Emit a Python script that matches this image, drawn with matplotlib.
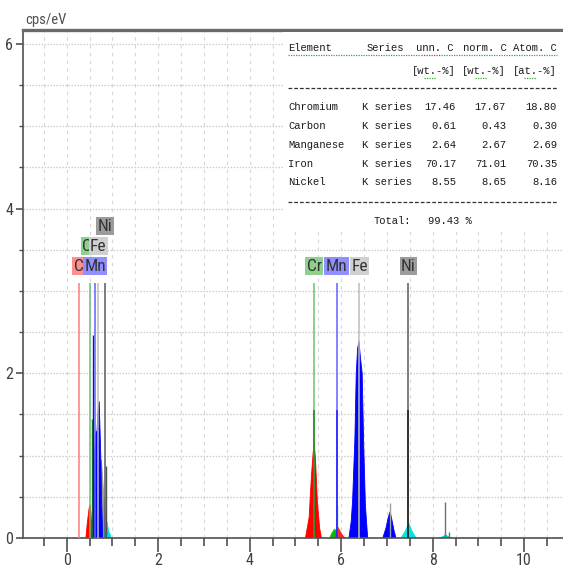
import matplotlib
matplotlib.use('Agg')
import matplotlib.pyplot as plt
from matplotlib import font_manager
from matplotlib.font_manager import FontProperties
from matplotlib.patches import Rectangle
from matplotlib.lines import Line2D
from matplotlib.ticker import MultipleLocator

# ---------------- data ----------------
# element marker lines (energy keV) and label stacking level
marker_names = ['C', 'Cr', 'Mn', 'Fe', 'Ni', 'Cr', 'Mn', 'Fe', 'Ni']
marker_energy = [0.26, 0.50, 0.62, 0.69, 0.84, 5.41, 5.90, 6.40, 7.47]
marker_level = [0, 1, 0, 1, 2, 0, 0, 0, 0]
marker_is_k = [False, False, False, False, False, True, True, True, True]
marker_top = 3.1
marker_k_height = 1.55

# fitted peak outlines (energy keV, cps/eV)
cr_l_e = [0.42, 0.45, 0.49, 0.51, 0.53, 0.56]
cr_l_c = [0.0, 0.18, 0.36, 0.40, 0.30, 0.0]
fe_l_e = [0.57, 0.59, 0.62, 0.64, 0.66, 0.68, 0.71, 0.73, 0.75, 0.76, 0.79]
fe_l_c = [0.0, 0.5, 1.1, 1.3, 1.25, 1.5, 1.66, 1.3, 0.9, 0.5, 0.0]
gray_l_e = [0.66, 0.72, 0.76, 0.80, 0.84, 0.87]
gray_l_c = [0.0, 0.6, 0.95, 0.6, 0.3, 0.0]
ni_l_e = [0.80, 0.84, 0.87, 0.92, 0.98]
ni_l_c = [0.0, 0.10, 0.22, 0.08, 0.0]

cr_ka_e = [5.22, 5.30, 5.35, 5.39, 5.41, 5.44, 5.48, 5.53, 5.57]
cr_ka_c = [0.0, 0.25, 0.75, 1.05, 1.17, 0.95, 0.45, 0.12, 0.0]
mn_ka_e = [5.75, 5.80, 5.86, 5.90, 5.93]
mn_ka_c = [0.0, 0.06, 0.11, 0.06, 0.0]
cr_kb_e = [5.86, 5.92, 5.96, 6.02, 6.08]
cr_kb_c = [0.0, 0.14, 0.10, 0.04, 0.0]
fe_ka_e = [6.17, 6.22, 6.25, 6.30, 6.33, 6.36, 6.39, 6.42, 6.46, 6.49, 6.53, 6.58]
fe_ka_c = [0.0, 0.2, 0.45, 1.2, 2.0, 2.3, 2.39, 2.2, 2.0, 1.2, 0.4, 0.0]
fe_kb_e = [6.91, 6.98, 7.03, 7.07, 7.11, 7.16, 7.20]
fe_kb_c = [0.0, 0.12, 0.25, 0.32, 0.22, 0.08, 0.0]
ni_ka_e = [7.31, 7.40, 7.48, 7.56, 7.64]
ni_ka_c = [0.0, 0.08, 0.18, 0.07, 0.0]
ni_kb_e = [8.15, 8.24, 8.28, 8.33, 8.40]
ni_kb_c = [0.0, 0.02, 0.04, 0.02, 0.0]

# thin spectrum spikes (energy, height)
spike_e = [0.56, 0.57, 0.85, 5.92, 7.06, 8.28, 8.35]
spike_c = [1.45, 2.46, 0.87, 0.40, 0.42, 0.44, 0.07]
spike_col = ['#1a7a1a', '#1010c0', '#505050', '#7ac07a', '#a0a0a0', '#707070', '#707070']

# quantification table
tbl_elements = ['Chromium', 'Carbon', 'Manganese', 'Iron', 'Nickel']
tbl_series = ['K series', 'K series', 'K series', 'K series', 'K series']
tbl_unn = [17.46, 0.61, 2.64, 70.17, 8.55]
tbl_norm = [17.67, 0.43, 2.67, 71.01, 8.65]
tbl_atom = [18.80, 0.30, 2.69, 70.35, 8.16]
tbl_total = 99.43

x_ticks = [0, 2, 4, 6, 8, 10]
y_ticks = [0, 2, 4, 6]

# ---------------- fonts ----------------
names = {f.name for f in font_manager.fontManager.ttflist}
MONO = 'Liberation Mono' if 'Liberation Mono' in names else 'DejaVu Sans Mono'


def pick_condensed():
    pref = ['Liberation Sans Narrow', 'Roboto Condensed', 'DejaVu Sans', 'Noto Sans',
            'Open Sans', 'Arimo', 'Roboto', 'Lato', 'Inter']
    best = None
    for f in font_manager.fontManager.ttflist:
        st = str(f.stretch).lower()
        fn = f.fname.lower()
        if f.style != 'normal':
            continue
        if f.weight not in (400, 'normal', 'regular', 'book'):
            continue
        if 'mono' in fn or 'serif' in fn or 'bold' in fn or 'italic' in fn:
            continue
        is_cond = (st == 'condensed') or ('narrow' in fn) or \
                  ('condensed' in fn and 'semi' not in fn and 'extra' not in fn and 'ultra' not in fn)
        if not is_cond:
            continue
        rank = len(pref)
        for i, p in enumerate(pref):
            if f.name.startswith(p):
                rank = i
                break
        if best is None or rank < best[0]:
            best = (rank, f.fname)
    return best[1] if best else None


cond_path = pick_condensed()
if cond_path:
    SANS = FontProperties(fname=cond_path)
    lab_size, tick_size = 12.5, 11.5
else:
    SANS = FontProperties(family='DejaVu Sans')
    lab_size, tick_size = 10, 10

# ---------------- figure ----------------
W, H = 563, 567
fig = plt.figure(figsize=(W / 100, H / 100), dpi=100)
fig.patch.set_facecolor('white')


def fx(px):
    return px / W


def fy(py):
    return 1 - py / H


ax = fig.add_axes([fx(23), fy(538), (563 - 23) / W, (538 - 30) / H])
ax.set_xlim(-0.955, 10.85)
ax.set_ylim(0, 6.17)

ax.spines['right'].set_visible(False)
ax.spines['top'].set_color('#6a6a6a')
ax.spines['top'].set_linewidth(2.4)
for s in ('left', 'bottom'):
    ax.spines[s].set_color('#505050')
    ax.spines[s].set_linewidth(1.2)

ax.xaxis.set_major_locator(MultipleLocator(2))
ax.xaxis.set_minor_locator(MultipleLocator(0.5))
ax.yaxis.set_major_locator(MultipleLocator(2))
ax.yaxis.set_minor_locator(MultipleLocator(0.5))
ax.set_xticks(x_ticks)
ax.set_yticks(y_ticks)
ax.set_xticklabels([str(v) for v in x_ticks])
ax.set_yticklabels([str(v) for v in y_ticks])
ax.tick_params(axis='x', which='major', length=10, width=1.2, color='#505050',
               labelcolor='#404040', pad=1.0)
ax.tick_params(axis='x', which='minor', length=6, width=1.2, color='#505050')
ax.tick_params(axis='y', which='major', length=5, width=1.2, color='#505050',
               labelcolor='#404040', pad=2)
ax.tick_params(axis='y', which='minor', length=3, width=1.0, color='#505050')
for lbl in ax.get_xticklabels() + ax.get_yticklabels():
    lbl.set_fontproperties(SANS)
    lbl.set_fontsize(tick_size)

ax.set_axisbelow(True)
ax.xaxis.grid(True, which='both', color='#d6d6d6', lw=0.8, ls=(0, (3, 4)))
ax.yaxis.grid(True, which='both', color='#cccccc', lw=0.9, ls=(0, (1.2, 1.2)))

# fitted peaks
fills = [
    (gray_l_e, gray_l_c, '#9a9a9a'),
    (cr_l_e, cr_l_c, '#ff0000'),
    (fe_l_e, fe_l_c, '#0000ff'),
    (ni_l_e, ni_l_c, '#00e0e0'),
    (cr_ka_e, cr_ka_c, '#ff0000'),
    (mn_ka_e, mn_ka_c, '#00c000'),
    (cr_kb_e, cr_kb_c, '#ff2020'),
    (fe_ka_e, fe_ka_c, '#0000ff'),
    (fe_kb_e, fe_kb_c, '#0000ff'),
    (ni_ka_e, ni_ka_c, '#00e5e5'),
    (ni_kb_e, ni_kb_c, '#00d0d0'),
]
for e, c, col in fills:
    ax.fill(e, c, color=col, lw=0.6, zorder=2)

for e, c, col in zip(spike_e, spike_c, spike_col):
    ax.vlines(e, 0, c, color=col, lw=1.0, zorder=2.5)

light = {'C': '#ff7a7a', 'Cr': '#6cc06c', 'Mn': '#6060ff', 'Fe': '#bdbdbd', 'Ni': '#5a5a5a'}
dark = {'C': '#ff5050', 'Cr': '#208a20', 'Mn': '#2020ff', 'Fe': '#9a9a9a', 'Ni': '#1e1e1e'}
box = {'C': '#ff8f8f', 'Cr': '#8fd08f', 'Mn': '#8f8fff', 'Fe': '#d0d0d0', 'Ni': '#9c9c9c'}

for name, e, k in zip(marker_names, marker_energy, marker_is_k):
    ax.vlines(e, 0, marker_top, color=light[name], lw=1.1, zorder=3)
    if k:
        ax.vlines(e, 0, marker_k_height, color=dark[name], lw=1.1, zorder=3.1)

label_base = 3.30
label_step = 0.243
for name, e, lev in zip(marker_names, marker_energy, marker_level):
    ax.text(e, label_base + lev * label_step, name, ha='center', va='center',
            fontproperties=SANS, fontsize=lab_size, color='#333333', zorder=6,
            bbox=dict(boxstyle='square,pad=0.08', fc=box[name], ec='none'))

fig.text(fx(25), fy(20), 'cps/eV', ha='left', va='center', fontproperties=SANS,
         fontsize=10.5, color='#505050')

# ---------------- table ----------------
fig.add_artist(Rectangle((fx(283), fy(232)), (563 - 283) / W, (232 - 32) / H,
                         transform=fig.transFigure, fc='white', ec='none', zorder=1))

tkw = dict(family=MONO, fontsize=7.6, color='#1a1a1a', va='center', zorder=3)
fig.text(fx(288), fy(48), 'Element', ha='left', **tkw)
fig.text(fx(367), fy(48), 'Series', ha='left', **tkw)
fig.text(fx(454), fy(48), 'unn. C', ha='right', **tkw)
fig.text(fx(507), fy(48), 'norm. C', ha='right', **tkw)
fig.text(fx(557), fy(48), 'Atom. C', ha='right', **tkw)
fig.text(fx(456), fy(71.5), '[wt.-%]', ha='right', **tkw)
fig.text(fx(506), fy(71.5), '[wt.-%]', ha='right', **tkw)
fig.text(fx(557), fy(71.5), '[at.-%]', ha='right', **tkw)

row0, rstep = 107.3, 18.75
for i, (n, s, a, b, c) in enumerate(zip(tbl_elements, tbl_series, tbl_unn, tbl_norm, tbl_atom)):
    yy = fy(row0 + i * rstep)
    fig.text(fx(288), yy, n, ha='left', **tkw)
    fig.text(fx(362), yy, s, ha='left', **tkw)
    fig.text(fx(456), yy, f'{a:.2f}', ha='right', **tkw)
    fig.text(fx(506), yy, f'{b:.2f}', ha='right', **tkw)
    fig.text(fx(557), yy, f'{c:.2f}', ha='right', **tkw)

fig.text(fx(374), fy(221.5), 'Total:', ha='left', **tkw)
fig.text(fx(428), fy(221.5), f'{tbl_total:.2f} %', ha='left', **tkw)

for yl in (87.5, 202):
    fig.add_artist(Line2D([fx(288), fx(557)], [fy(yl), fy(yl)], transform=fig.transFigure,
                          color='#303030', lw=0.9, ls=(0, (3, 1.6)), zorder=3))

# spell-check squiggles
squig = [((288, 420), 55, '#3aa03a'), ((421, 440), 55, '#d03030'), ((441, 557), 55, '#3aa03a'),
         ((424, 436), 78, '#3aa03a'), ((475, 487), 78, '#3aa03a'), ((524, 536), 78, '#3aa03a')]
for (x0, x1), yl, col in squig:
    fig.add_artist(Line2D([fx(x0), fx(x1)], [fy(yl), fy(yl)], transform=fig.transFigure,
                          color=col, lw=0.9, ls=(0, (1, 1)), zorder=3))

fig.savefig('out.png', dpi=100)
